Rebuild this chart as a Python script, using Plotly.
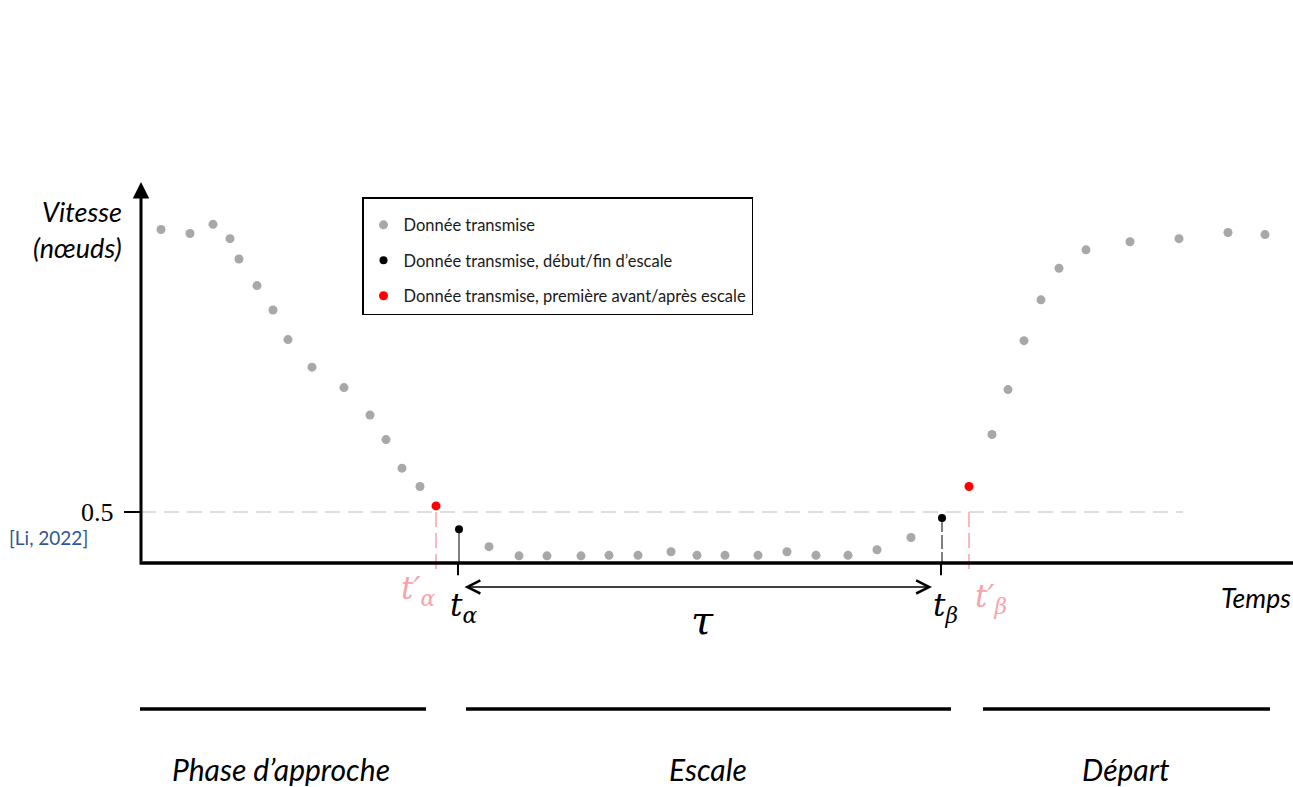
import plotly.graph_objects as go

# ---------------- data (time in arbitrary units, speed in knots) ----------------
t_approach = [161, 190, 213, 230, 239, 257, 273, 288, 312, 344, 370, 386, 402, 420]
v_approach = [3.27, 3.23, 3.32, 3.18, 2.98, 2.72, 2.48, 2.19, 1.92, 1.72, 1.45, 1.21, 0.93, 0.75]
t_stop = [489, 519, 547, 581, 609, 638, 671, 697, 725, 758, 787, 816, 848, 877, 911]
v_stop = [0.16, 0.07, 0.07, 0.07, 0.075, 0.075, 0.11, 0.075, 0.075, 0.075, 0.11, 0.075, 0.075, 0.13, 0.25]
t_depart = [992, 1008, 1024, 1041, 1059, 1086, 1130, 1179, 1228, 1265]
v_depart = [1.26, 1.70, 2.18, 2.58, 2.89, 3.07, 3.15, 3.18, 3.24, 3.22]

t_bounds = [459, 942]          # t_alpha, t_beta (start / end of stop)
v_bounds = [0.33, 0.44]
t_outside = [436, 969]         # t'_alpha, t'_beta (first before / after stop)
v_outside = [0.56, 0.75]

threshold = 0.5
threshold_end = 1183
axis_origin = 141

phase_names = ["Phase d\u2019approche", "Escale", "D\u00e9part"]
phase_start = [140, 466, 983]
phase_end = [426, 951, 1270]

legend_names = ["Donn\u00e9e transmise",
                "Donn\u00e9e transmise, d\u00e9but/fin d\u2019escale",
                "Donn\u00e9e transmise, premi\u00e8re avant/apr\u00e8s escale"]

# ---------------- figure ----------------
W, H = 1293, 787
PX = 102.0            # pixels per knot
Y0 = 563              # pixel row of the time axis
y_lo = (Y0 - H) / PX
y_hi = Y0 / PX

GRAY = "#a9a7a7"
PINK = "#f7a3aa"
FONT = "Lato"

def py(p):
    """paper y from pixel row"""
    return 1 - p / H

def px(p):
    return p / W

fig = go.Figure()

# stems (vertical guides) for boundary points
for t, v in zip(t_bounds, v_bounds):
    fig.add_trace(go.Scatter(x=[t, t], y=[v, 0], mode="lines",
                             line=dict(color="#555555", width=1.5,
                                       dash="solid" if t == t_bounds[0] else "14px,3px"),
                             showlegend=False, hoverinfo="skip"))
for t, v in zip(t_outside, v_outside):
    fig.add_trace(go.Scatter(x=[t, t], y=[min(v, threshold), -0.11], mode="lines",
                             line=dict(color=PINK, width=1.5, dash="15px,6px"),
                             showlegend=False, hoverinfo="skip"))

# threshold line
fig.add_trace(go.Scatter(x=[axis_origin, threshold_end], y=[threshold, threshold], mode="lines",
                         line=dict(color="#d3d3d3", width=1.5, dash="15px,8px"),
                         showlegend=False, hoverinfo="skip"))

# transmitted data
fig.add_trace(go.Scatter(x=t_approach + t_stop + t_depart,
                         y=v_approach + v_stop + v_depart,
                         mode="markers", name=legend_names[0], legendgroup="a",
                         marker=dict(color=GRAY, size=9)))
fig.add_trace(go.Scatter(x=t_bounds, y=v_bounds, mode="markers",
                         name=legend_names[1], legendgroup="b",
                         marker=dict(color="black", size=8)))
fig.add_trace(go.Scatter(x=t_outside, y=v_outside, mode="markers",
                         name=legend_names[2], legendgroup="c",
                         marker=dict(color="#ff0000", size=9)))

shapes = []
# time axis
shapes.append(dict(type="line", xref="x", yref="y", x0=axis_origin - 1.5, x1=W + 5, y0=0, y1=0,
                   line=dict(color="black", width=3.5)))
# ticks at t_alpha and t_beta
for t in t_bounds:
    shapes.append(dict(type="line", xref="x", yref="y", x0=t - 1, x1=t - 1, y0=0, y1=-0.12,
                       line=dict(color="black", width=2)))
# y tick at threshold
shapes.append(dict(type="line", xref="x", yref="y", x0=124, x1=axis_origin, y0=threshold, y1=threshold,
                   line=dict(color="black", width=2)))
# phase bars
for s, e in zip(phase_start, phase_end):
    shapes.append(dict(type="line", xref="x", yref="paper", x0=s, x1=e, y0=py(709), y1=py(709),
                       line=dict(color="black", width=3.5)))

annotations = []
# vertical axis arrow
annotations.append(dict(x=axis_origin, y=(Y0 - 182) / PX, ax=axis_origin, ay=0,
                        xref="x", yref="y", axref="x", ayref="y", text="",
                        showarrow=True, arrowhead=2, arrowsize=1.1, arrowwidth=3, arrowcolor="black"))
# tau double arrow
annotations.append(dict(x=t_bounds[1] - 10, y=-0.235, ax=t_bounds[0] + 4, ay=-0.235,
                        xref="x", yref="y", axref="x", ayref="y", text="",
                        showarrow=True, arrowhead=5, startarrowhead=5, arrowside="end+start",
                        arrowsize=1.6, startarrowsize=1.6, arrowwidth=1.6, arrowcolor="black"))

def label(x, y, text, size, color="black", xanchor="center", font=FONT, xref="paper"):
    annotations.append(dict(x=x, y=y, xref=xref, yref="paper", text=text, showarrow=False,
                            xanchor=xanchor, yanchor="middle",
                            font=dict(family=font, size=size, color=color)))

label(px(124), py(212), "<i>Vitesse</i>", 27, xanchor="right")
label(px(124), py(247), "<i>(n\u0153uds)</i>", 27, xanchor="right")
label(px(116), py(512), "0.5", 26, xanchor="right", font="Liberation Serif")
label(px(7), py(537), "[Li, 2022]", 19, color="#2f5597", xanchor="left")
label(px(1219), py(598), "<i>Temps</i>", 26.5, xanchor="left")

MATH = "DejaVu Serif"
label(t_outside[0] - 18, py(590), "<i>t\u2032</i><sub><i>\u03b1</i></sub>", 31, color=PINK, font=MATH, xref="x")
label(t_bounds[0] + 4, py(607), "<i>t</i><sub><i>\u03b1</i></sub>", 31, font=MATH, xref="x")
label((t_bounds[0] + t_bounds[1]) / 2 + 2, py(620), "<i>\u03c4</i>", 40, font=MATH, xref="x")
label(t_bounds[1] + 3, py(607), "<i>t</i><sub><i>\u03b2</i></sub>", 31, font=MATH, xref="x")
label(t_outside[1] + 22, py(598), "<i>t\u2032</i><sub><i>\u03b2</i></sub>", 31, color=PINK, font=MATH, xref="x")

centers = [281, 708, 1126]
for name, c in zip(phase_names, centers):
    label(c, py(769), f"<i>{name}</i>", 30, xref="x")

fig.update_layout(
    width=W, height=H,
    margin=dict(l=0, r=0, t=0, b=0),
    paper_bgcolor="white", plot_bgcolor="white",
    xaxis=dict(range=[0, W], visible=False, fixedrange=True),
    yaxis=dict(range=[y_lo, y_hi], visible=False, fixedrange=True),
    shapes=shapes,
    annotations=annotations,
    showlegend=True,
    legend=dict(x=px(362), y=py(197), xanchor="left", yanchor="top",
                bordercolor="black", borderwidth=1.5, bgcolor="white",
                font=dict(family=FONT, size=16.5, color="#1a1a1a"),
                title=dict(text=" ", font=dict(size=7)),
                tracegroupgap=11, traceorder="grouped",
                itemwidth=30),
)

fig.write_html("out.html")
